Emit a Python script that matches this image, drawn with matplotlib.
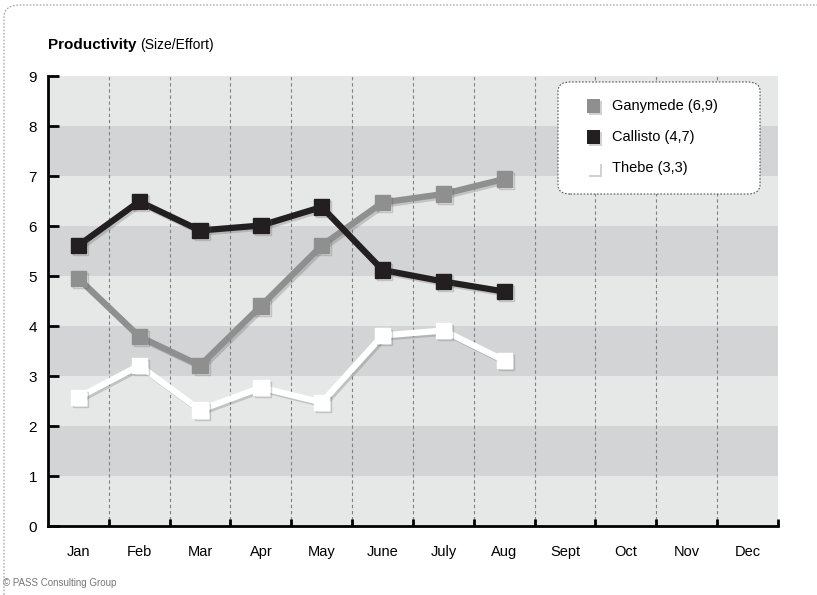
import matplotlib.pyplot as plt
import matplotlib.patheffects as pe
from matplotlib.patches import FancyBboxPatch, Rectangle

plt.rcParams['font.family'] = ['Liberation Sans Narrow', 'Liberation Sans', 'DejaVu Sans']

months = ["Jan", "Feb", "Mar", "Apr", "May", "June", "July", "Aug",
          "Sept", "Oct", "Nov", "Dec"]
ganymede = [4.95, 3.79, 3.21, 4.40, 5.61, 6.47, 6.64, 6.94]
callisto = [5.61, 6.49, 5.91, 6.01, 6.38, 5.12, 4.89, 4.69]
thebe = [2.57, 3.21, 2.32, 2.77, 2.47, 3.81, 3.91, 3.31]
series_names = ["Ganymede (6,9)", "Callisto (4,7)", "Thebe (3,3)"]
series_colors = ["#8f8f8f", "#231f20", "#ffffff"]

fig = plt.figure(figsize=(8.17, 5.95), dpi=100)
ax = fig.add_axes([48 / 817, 1 - 526 / 595, 730 / 817, 450 / 595])

# alternating horizontal bands
for k in range(9):
    ax.axhspan(k, k + 1, color="#e6e7e7" if k % 2 == 0 else "#d3d4d5", lw=0, zorder=0)

# dashed separators between months
for k in range(11):
    ax.axvline(k + 0.5, color="#808080", lw=0.8, ls=(0, (3, 2.5)), zorder=1)

shadow = [pe.SimpleLineShadow(offset=(1.5, -1.5), shadow_color="#555555", alpha=0.25),
          pe.Normal()]
for vals, color in zip([thebe, ganymede, callisto], [series_colors[2], series_colors[0], series_colors[1]]):
    x = list(range(len(vals)))
    ax.plot(x, vals, color=color, lw=4.5, marker="s", ms=11, mec=color, mfc=color,
            zorder=3, solid_joinstyle="miter", path_effects=shadow)

ax.set_xlim(-0.5, 11.5)
ax.set_ylim(0, 9)
ax.set_yticks(range(10))
ax.set_xticks(range(12))
ax.set_xticklabels(months, fontsize=10.5)
ax.tick_params(axis="y", direction="in", length=8, width=2, labelsize=11, pad=8)
ax.tick_params(axis="x", length=0, pad=14)
ax.set_xticks([k + 0.5 for k in range(12)], minor=True)
ax.tick_params(axis="x", which="minor", direction="in", length=5, width=2)
for side in ["top", "right"]:
    ax.spines[side].set_visible(False)
ax.spines["left"].set_linewidth(2)
ax.spines["bottom"].set_linewidth(2)

# legend box
W, H = 817, 595
box = FancyBboxPatch((558 / W, 1 - 194 / H), 202 / W, 112 / H,
                     boxstyle="round,pad=0,rounding_size=0.015",
                     transform=fig.transFigure, fc="white", ec="#555555",
                     lw=0.8, ls=(0, (1.5, 1.5)), zorder=5)
fig.add_artist(box)
sq = 13
for i, (name, color) in enumerate(zip(series_names, series_colors)):
    yc = 106 + 31 * i
    # soft shadow, then the swatch
    fig.add_artist(Rectangle(((587 + 2) / W, 1 - (yc + sq / 2 + 2) / H), sq / W, sq / H,
                             transform=fig.transFigure, fc="#999999", ec="none",
                             alpha=0.45, zorder=6))
    fig.add_artist(Rectangle((587 / W, 1 - (yc + sq / 2) / H), sq / W, sq / H,
                             transform=fig.transFigure, fc=color, ec="none", zorder=7))
    fig.text(612 / W, 1 - yc / H, name, fontsize=10.5, va="center", ha="left", zorder=8)

# title
t = fig.text(48 / W, 1 - 45 / H, "Productivity", fontsize=11, fontweight="bold",
             va="center", ha="left")
fig.canvas.draw()
bb = t.get_window_extent()
fig.text(bb.x1 / fig.bbox.width + 4 / W, 1 - 45 / H, "(Size/Effort)", fontsize=10,
         va="center", ha="left")

fig.text(3 / W, 1 - 583 / H, "© PASS Consulting Group", fontsize=7,
         color="#777777", va="center", ha="left")

# outer dotted frame
frame = FancyBboxPatch((4 / W, -0.2), 1.2, 1.2 - 5 / H,
                       boxstyle="round,pad=0,rounding_size=0.02",
                       transform=fig.transFigure, fc="none", ec="#999999",
                       lw=0.8, ls=(0, (1.5, 1.5)))
fig.add_artist(frame)

fig.savefig("out.png", dpi=100)
